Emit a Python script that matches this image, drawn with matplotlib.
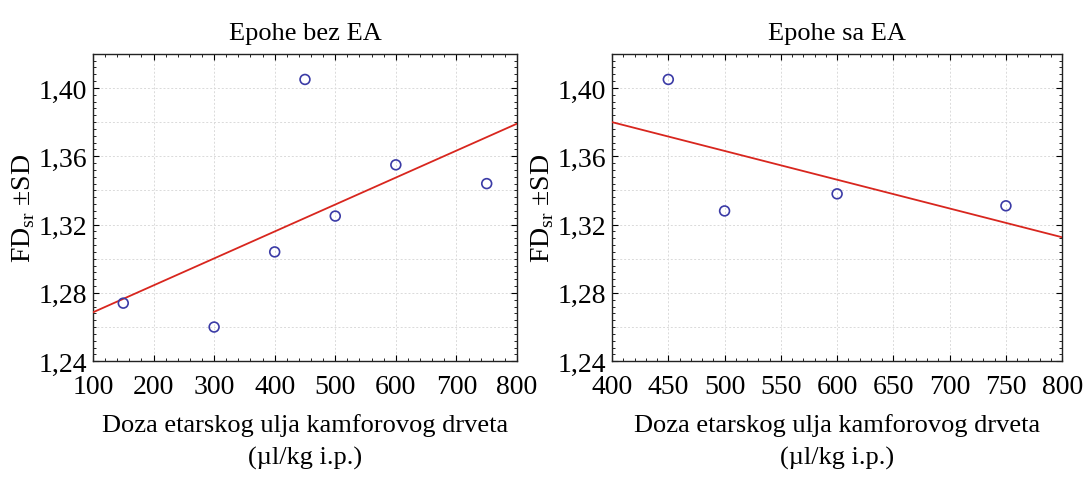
import numpy as np
import matplotlib
matplotlib.use("Agg")
import matplotlib.pyplot as plt
from matplotlib.ticker import MultipleLocator, FuncFormatter

plt.rcParams['font.family'] = ['Liberation Serif', 'DejaVu Serif']
plt.rcParams['mathtext.fontset'] = 'custom'
plt.rcParams['mathtext.rm'] = 'Liberation Serif'

# doses and mean FD values
doza_bez = [150, 300, 400, 450, 500, 600, 750]
fd_bez = [1.274, 1.260, 1.304, 1.405, 1.325, 1.355, 1.344]

doza_sa = [450, 500, 600, 750]
fd_sa = [1.405, 1.328, 1.338, 1.331]

naslovi = ['Epohe bez EA', 'Epohe sa EA']
xlab = 'Doza etarskog ulja kamforovog drveta\n(\u00b5l/kg i.p.)'
ylab = 'FD$_{\\mathrm{sr}}$ \u00b1SD'

fig = plt.figure(figsize=(10.9, 4.81), dpi=100)
ax1 = fig.add_axes([0.0853, 0.247, 0.389, 0.639])
ax2 = fig.add_axes([0.5615, 0.247, 0.413, 0.639])

def comma(v, pos):
    return ('%.2f' % v).replace('.', ',')

def panel(ax, x, y, xlim, xstep, title):
    x = np.array(x)
    y = np.array(y)
    k, b = np.polyfit(x, y, 1)
    xx = np.array(xlim, dtype=float)
    ax.plot(xx, k * xx + b, color='#d8261e', lw=1.3, zorder=3)
    ax.scatter(x, y, s=50, facecolors='none', edgecolors='#3b3ba6', linewidths=1.2, zorder=4)
    ax.set_xlim(xlim)
    ax.set_ylim(1.24, 1.42)
    ax.xaxis.set_major_locator(MultipleLocator(xstep))
    ax.xaxis.set_minor_locator(MultipleLocator(xstep / 5))
    ax.yaxis.set_major_locator(MultipleLocator(0.04))
    ax.yaxis.set_minor_locator(MultipleLocator(0.004))
    ax.yaxis.set_major_formatter(FuncFormatter(comma))
    # grid: every major x, every 0.02 in y
    for gx in np.arange(xlim[0] + xstep, xlim[1], xstep):
        ax.axvline(gx, color='#dadada', lw=0.7, ls=(0, (2, 2)), zorder=1)
    for gy in np.arange(1.26, 1.42, 0.02):
        ax.axhline(gy, color='#dadada', lw=0.7, ls=(0, (2, 2)), zorder=1)
    ax.tick_params(which='both', direction='in', top=True, right=True, labelsize=20)
    ax.tick_params(axis='x', pad=9)
    ax.tick_params(axis='y', pad=4)
    ax.tick_params(which='major', length=4, width=0.8)
    ax.tick_params(which='minor', length=2.5, width=0.6)
    for s in ax.spines.values():
        s.set_linewidth(1.0)
        s.set_color('#222222')
    ax.set_title(title, fontsize=19, pad=11)
    ax.set_xlabel(xlab, fontsize=19, labelpad=10, linespacing=1.6)
    ax.set_ylabel(ylab, fontsize=20, labelpad=1)

panel(ax1, doza_bez, fd_bez, (100, 800), 100, naslovi[0])
panel(ax2, doza_sa, fd_sa, (400, 800), 50, naslovi[1])

fig.savefig('out.png', dpi=100)
